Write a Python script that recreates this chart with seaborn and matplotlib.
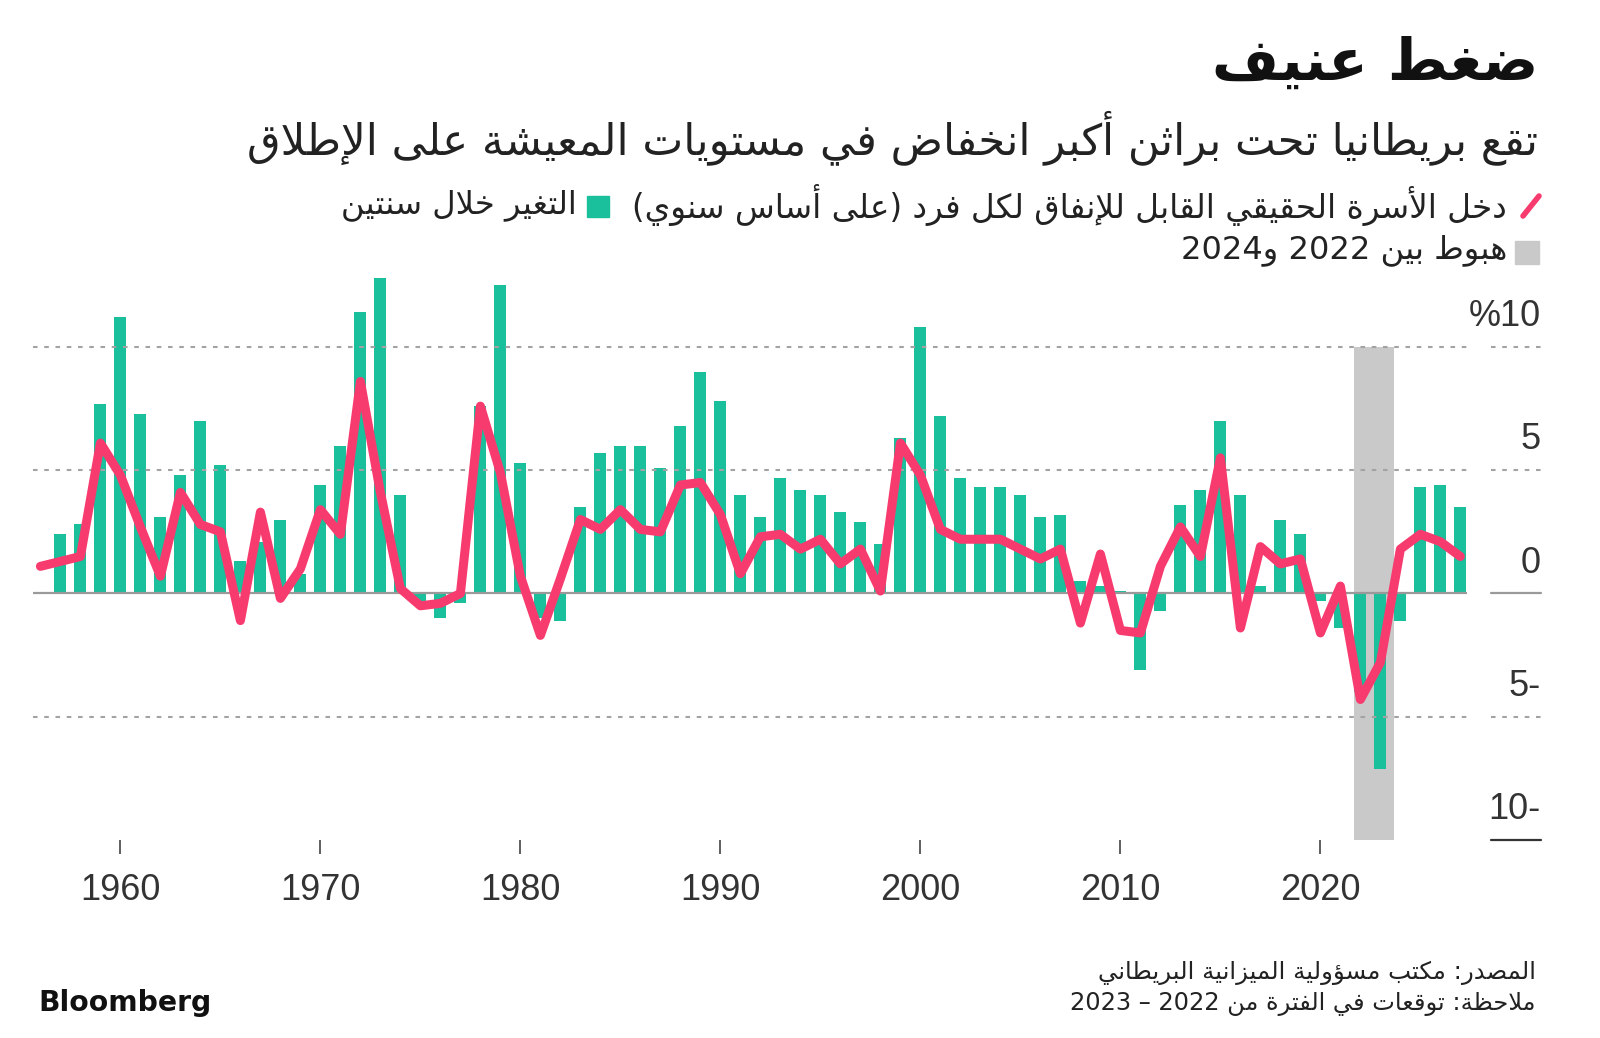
import re
import matplotlib
matplotlib.use("Agg")
import matplotlib.pyplot as plt
import seaborn as sns
from matplotlib.lines import Line2D
from matplotlib.patches import Rectangle

# annual real household disposable income per head, % change
line_years = list(range(1956, 2028))
line_income = [1.1, 1.3, 1.5, 6.1, 4.8, 2.7, 0.7, 4.1, 2.8, 2.5,
               -1.1, 3.3, -0.2, 1.0, 3.4, 2.4, 8.6, 4.1, 0.2, -0.5,
               -0.4, 0.0, 7.6, 4.9, 0.7, -1.7, 0.6, 3.0, 2.6, 3.4,
               2.6, 2.5, 4.4, 4.5, 3.2, 0.8, 2.3, 2.4, 1.8, 2.2,
               1.2, 1.8, 0.1, 6.1, 4.8, 2.6, 2.2, 2.2, 2.2, 1.8,
               1.4, 1.8, -1.2, 1.6, -1.5, -1.6, 1.1, 2.7, 1.5, 5.5,
               -1.4, 1.9, 1.2, 1.4, -1.6, 0.3, -4.3, -2.8, 1.8, 2.4,
               2.1, 1.5]

# two-year change
bar_years = list(range(1957, 2028))
bar_change = [2.4, 2.8, 7.7, 11.2, 7.3, 3.1, 4.8, 7.0, 5.2, 1.3,
              2.1, 3.0, 0.8, 4.4, 6.0, 11.4, 12.8, 4.0, -0.3, -1.0,
              -0.4, 7.6, 12.5, 5.3, -1.0, -1.1, 3.5, 5.7, 6.0, 6.0,
              5.1, 6.8, 9.0, 7.8, 4.0, 3.1, 4.7, 4.2, 4.0, 3.3,
              2.9, 2.0, 6.3, 10.8, 7.2, 4.7, 4.3, 4.3, 4.0, 3.1,
              3.2, 0.5, 0.3, 0.1, -3.1, -0.7, 3.6, 4.2, 7.0, 4.0,
              0.3, 3.0, 2.4, -0.3, -1.4, -4.0, -7.1, -1.1, 4.3, 4.4,
              3.5]

decades = [1960, 1970, 1980, 1990, 2000, 2010, 2020]
y_ticks = [10, 5, 0, -5, -10]
y_labels = ["%10", "5", "0", "5-", "10-"]
drop_start, drop_end = 2021.7, 2023.7

title = "ضغط عنيف"
subtitle = "تقع بريطانيا تحت براثن أكبر انخفاض في مستويات المعيشة على الإطلاق"
line_label = "دخل الأسرة الحقيقي القابل للإنفاق لكل فرد (على أساس سنوي)"
bar_label = "التغير خلال سنتين"
span_label = "هبوط بين 2022 و2024"
source = "المصدر: مكتب مسؤولية الميزانية البريطاني"
note = "ملاحظة: توقعات في الفترة من 2022 – 2023"

GREEN = "#1abf9c"
PINK = "#f73b6f"
SHADE = "#c9c9c9"
GRID = "#a3a3a3"
INK = "#222222"

# matplotlib has no arabic shaping, so pick presentation forms by hand
DUAL = {"ئ": 0xFE89, "ب": 0xFE8F, "ت": 0xFE95, "ث": 0xFE99, "ج": 0xFE9D,
        "ح": 0xFEA1, "خ": 0xFEA5, "س": 0xFEB1, "ش": 0xFEB5, "ص": 0xFEB9,
        "ض": 0xFEBD, "ط": 0xFEC1, "ظ": 0xFEC5, "ع": 0xFEC9, "غ": 0xFECD,
        "ف": 0xFED1, "ق": 0xFED5, "ك": 0xFED9, "ل": 0xFEDD, "م": 0xFEE1,
        "ن": 0xFEE5, "ه": 0xFEE9, "ي": 0xFEF1}
RIGHT = {"آ": 0xFE81, "أ": 0xFE83, "ؤ": 0xFE85, "إ": 0xFE87, "ا": 0xFE8D,
         "ة": 0xFE93, "د": 0xFEA9, "ذ": 0xFEAB, "ر": 0xFEAD, "ز": 0xFEAF,
         "و": 0xFEED, "ى": 0xFEEF}
LAM_ALEF = {"آ": 0xFEF5, "أ": 0xFEF7, "إ": 0xFEF9, "ا": 0xFEFB}


def shape(s):
    units = []
    i = 0
    while i < len(s):
        if s[i] == "ل" and i + 1 < len(s) and s[i + 1] in LAM_ALEF:
            units.append(("LA", LAM_ALEF[s[i + 1]]))
            i += 2
        else:
            units.append((s[i], None))
            i += 1

    def kind(u):
        if u[0] == "LA" or u[0] in RIGHT:
            return "R"
        if u[0] in DUAL:
            return "D"
        return "U"

    out = []
    for k, u in enumerate(units):
        joins_prev = k > 0 and kind(units[k - 1]) == "D"
        joins_next = k + 1 < len(units) and kind(units[k + 1]) != "U"
        if u[0] == "LA":
            out.append(chr(u[1] + joins_prev))
        elif kind(u) == "D":
            form = 3 if joins_prev and joins_next else 1 if joins_prev else 2 if joins_next else 0
            out.append(chr(DUAL[u[0]] + form))
        elif kind(u) == "R":
            out.append(chr(RIGHT[u[0]] + joins_prev))
        else:
            out.append(u[0])
    return "".join(out)


def rtl(s):
    runs = re.findall(r"[0-9]+|[^0-9]+", shape(s))
    mirror = str.maketrans("()", ")(")
    return "".join(r if r[0].isdigit() else r[::-1].translate(mirror)
                   for r in reversed(runs))


sns.set_theme(style="white")
plt.rcParams["font.family"] = ["DejaVu Sans"]

W, H = 1600, 1038
fig = plt.figure(figsize=(W / 100, H / 100), dpi=100)


def fx(x):
    return x / W


def fy(y):
    return 1 - y / H


# plot area: x 33..1467 px, y 273..840 px
ax = fig.add_axes([fx(33), fy(840), (1467 - 33) / W, (840 - 273) / H])
ax.set_facecolor("none")

ax.fill_between([drop_start, drop_end], -10, 10, color=SHADE, lw=0, zorder=0)
sns.barplot(x=bar_years, y=bar_change, native_scale=True, width=0.6,
            color=GREEN, saturation=1, linewidth=0, ax=ax, zorder=2)
for v in [10, 5, -5]:
    ax.axhline(v, color=GRID, lw=1.5, ls=(0, (2.2, 3.2)), zorder=3)
ax.axhline(0, color="#9a9a9a", lw=1.6, zorder=3)
sns.lineplot(x=line_years, y=line_income, color=PINK, linewidth=6.5,
             ax=ax, zorder=4, solid_joinstyle="round", solid_capstyle="round")

ax.set_xlim(1955.63, 2027.33)
ax.set_ylim(-10, 13)
sns.despine(ax=ax, left=True, bottom=True)
ax.set_xlabel("")
ax.set_ylabel("")
ax.set_yticks([])
ax.set_xticks(decades)
ax.set_xticklabels([str(d) for d in decades], family="Liberation Sans",
                   color="#333333")
ax.tick_params(axis="x", bottom=True, length=10, width=1.1, color="#333333",
               pad=14, labelsize=26)

# right-hand value labels with their short rules
for v, lab in zip(y_ticks, y_labels):
    if v == 0:
        ax.axhline(v, 1.0167, 1.0516, color="#9a9a9a", lw=1.6, clip_on=False)
    elif v == -10:
        ax.axhline(v, 1.0167, 1.0516, color="#333333", lw=1.6, clip_on=False)
    else:
        ax.axhline(v, 1.0167, 1.0516, color=GRID, lw=1.5, ls=(0, (2.2, 3.2)),
                   clip_on=False)
    ax.text(1.0516, v + 0.85, lab, transform=ax.get_yaxis_transform(),
            ha="right", va="baseline", fontsize=26, color="#333333",
            family="Liberation Sans", clip_on=False)

renderer = fig.canvas.get_renderer()


def put(text, x, y, width, ha="right", **kw):
    t = fig.text(fx(x), fy(y), text, ha=ha, va="center", **kw)
    w = t.get_window_extent(renderer).width
    t.set_fontsize(t.get_fontsize() * width / w)
    return t


put(rtl(title), 1538, 63, 326, fontsize=40, weight="bold", color="#111111")
put(rtl(subtitle), 1538, 138, 1288, fontsize=30, color=INK)
put(rtl(line_label), 1507, 205, 874, fontsize=22, color=INK)
put(rtl(bar_label), 577, 205, 235, fontsize=22, color=INK)
put(rtl(span_label), 1507, 250, 325, fontsize=22, color=INK)
put(rtl(source), 1536, 973, 437, fontsize=18, color=INK)
put(rtl(note), 1536, 1004, 467, fontsize=18, color=INK)
put("Bloomberg", 38, 1003, 172, ha="left", fontsize=22, weight="bold",
    color="#111111", family="Liberation Sans Narrow")

# legend keys
fig.add_artist(Line2D([fx(1523), fx(1539)], [fy(216), fy(196)], color=PINK,
                      lw=4, solid_capstyle="round", transform=fig.transFigure))
fig.add_artist(Rectangle((fx(587), fy(217)), 22 / W, 21 / H, color=GREEN,
                         transform=fig.transFigure))
fig.add_artist(Rectangle((fx(1515), fy(264)), 24 / W, 23 / H, color=SHADE,
                         transform=fig.transFigure))

fig.savefig("out.png", dpi=100, facecolor="white")
